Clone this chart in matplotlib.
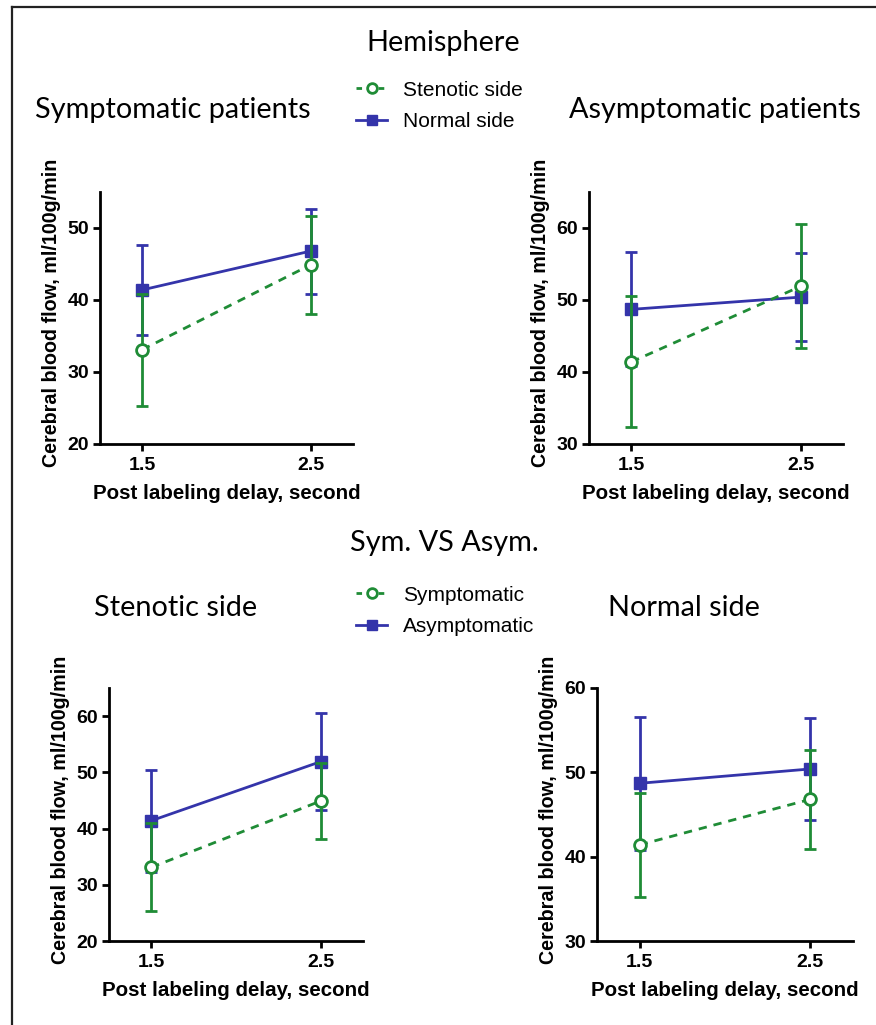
import numpy as np
import matplotlib
matplotlib.use("Agg")
import matplotlib.pyplot as plt
from matplotlib.lines import Line2D

# post labeling delay (s)
pld = [1.5, 2.5]

# CBF mean / SD, ml/100g/min
sym_sten = [33.1, 44.9]
sym_sten_sd = [7.8, 6.8]
sym_norm = [41.4, 46.8]
sym_norm_sd = [6.2, 5.9]
asym_sten = [41.4, 51.9]
asym_sten_sd = [9.1, 8.6]
asym_norm = [48.7, 50.4]
asym_norm_sd = [7.9, 6.1]

GREEN = '#1f8c36'
BLUE = '#3434aa'
TITLE_FONT = 'Lato'
BOLD_FONT = 'Liberation Sans'

W, H = 876, 1025
fig = plt.figure(figsize=(W / 100, H / 100), dpi=100)


def px_axes(l, t, r, b):
    return fig.add_axes([l / W, 1 - b / H, (r - l) / W, (b - t) / H])


def panel(ax, g, g_sd, b, b_sd, ylim, yticks):
    # blue first, green error bars sit on top
    ax.errorbar(pld, b, yerr=b_sd, color=BLUE, lw=2, marker='s', ms=8,
                capsize=4, capthick=2, elinewidth=2, zorder=3)
    ax.errorbar(pld, g, yerr=g_sd, color=GREEN, lw=2, ls=(0, (3, 2.5)), marker='o',
                ms=8.5, mfc='white', mew=2, capsize=4, capthick=2, elinewidth=2, zorder=4)
    ax.set_xlim(1.25, 2.75)
    ax.set_ylim(*ylim)
    ax.set_xticks(pld)
    ax.set_xticklabels(['1.5', '2.5'])
    ax.set_yticks(yticks)
    for s in ['top', 'right']:
        ax.spines[s].set_visible(False)
    for s in ['left', 'bottom']:
        ax.spines[s].set_linewidth(2)
    ax.tick_params(width=2, length=5, labelsize=14, pad=3)
    ax.tick_params(axis='x', pad=4.5)
    for lab in ax.get_xticklabels() + ax.get_yticklabels():
        lab.set_fontfamily(BOLD_FONT)
        lab.set_fontweight('bold')
    ax.set_xlabel('Post labeling delay, second', fontsize=14.8, fontweight='bold',
                  family=BOLD_FONT, va='center')
    ax.set_ylabel('Cerebral blood flow, ml/100g/min', fontsize=14.2, fontweight='bold',
                  family=BOLD_FONT, va='center')
    ax.xaxis.set_label_coords(0.5, -0.195)
    ax.yaxis.set_label_coords(-0.19, 0.52)


ax1 = px_axes(100, 192, 353, 444)
panel(ax1, sym_sten, sym_sten_sd, sym_norm, sym_norm_sd, (20, 55), [20, 30, 40, 50])
ax2 = px_axes(589, 192, 843, 444)
panel(ax2, asym_sten, asym_sten_sd, asym_norm, asym_norm_sd, (30, 65), [30, 40, 50, 60])
ax3 = px_axes(109, 688, 363, 941)
panel(ax3, sym_sten, sym_sten_sd, asym_sten, asym_sten_sd, (20, 65), [20, 30, 40, 50, 60])
ax4 = px_axes(597, 688, 853, 941)
panel(ax4, sym_norm, sym_norm_sd, asym_norm, asym_norm_sd, (30, 60), [30, 40, 50, 60])

# titles
tkw = dict(ha='center', va='center', fontsize=20.8, family=TITLE_FONT)
fig.text(443 / W, 1 - 43 / H, 'Hemisphere', **tkw)
fig.text(173 / W, 1 - 110 / H, 'Symptomatic patients', **tkw)
fig.text(715 / W, 1 - 110 / H, 'Asymptomatic patients', **tkw)
fig.text(444 / W, 1 - 543 / H, 'Sym. VS Asym.', **tkw)
fig.text(176 / W, 1 - 608 / H, 'Stenotic side', **tkw)
fig.text(684 / W, 1 - 608 / H, 'Normal side', **tkw)

# legends
h_green = Line2D([], [], color=GREEN, lw=2, ls=(0, (2, 2)), marker='o', ms=7, mfc='white', mew=2)
h_blue = Line2D([], [], color=BLUE, lw=2, marker='s', ms=7.5)
leg_kw = dict(frameon=False, loc='center left', handlelength=1.5, handletextpad=0.75,
              labelspacing=0.62, borderpad=0, borderaxespad=0,
              prop={'family': 'Liberation Sans', 'size': 15})
fig.legend([h_green, h_blue], ['Stenotic side', 'Normal side'],
           bbox_to_anchor=(356 / W, 1 - 106 / H), **leg_kw)
fig.legend([h_green, h_blue], ['Symptomatic', 'Asymptomatic'],
           bbox_to_anchor=(356 / W, 1 - 611 / H), **leg_kw)

# frame (top and left edges only)
fig.add_artist(Line2D([12 / W, 1], [1 - 7 / H, 1 - 7 / H], color='#222222', lw=1.6))
fig.add_artist(Line2D([12 / W, 12 / W], [0, 1 - 7 / H], color='#222222', lw=1.6))

fig.savefig('out.png', dpi=100)
